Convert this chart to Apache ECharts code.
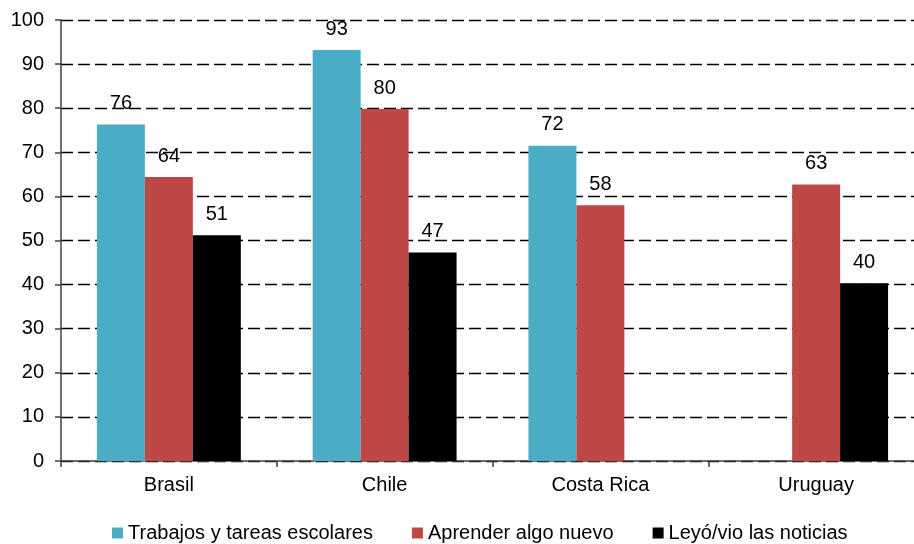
<!DOCTYPE html>
<html>
<head>
<meta charset="utf-8">
<script src="https://cdn.jsdelivr.net/npm/echarts@6/dist/echarts.min.js"></script>
<style>
html,body{margin:0;padding:0;background:#fff;}
#chart{width:914px;height:544px;}
</style>
</head>
<body>
<div id="chart"></div>
<script>
const categories = ['Brasil', 'Chile', 'Costa Rica', 'Uruguay'];
const seriesNames = ['Trabajos y tareas escolares', 'Aprender algo nuevo', 'Leyó/vio las noticias'];
const trabajos = [76.3, 93.2, 71.5, null];
const aprender = [64.4, 79.8, 58.0, 62.7];
const noticias = [51.2, 47.3, null, 40.3];
const yTicks = [0, 10, 20, 30, 40, 50, 60, 70, 80, 90, 100];

const colors = ['#4BACC6', '#BE4845', '#000000'];
const FONT = '"Liberation Sans", Arial, sans-serif';
const FS = 20;

const chart = echarts.init(document.getElementById('chart'), null, {renderer: 'canvas'});
function mk(name, data, color) {
  return {
    name: name,
    type: 'bar',
    data: data,
    barGap: '0%',
    barCategoryGap: '33.3%',
    itemStyle: {color: color},
    label: {
      show: true,
      position: 'top',
      distance: 11,
      color: '#000',
      fontFamily: FONT,
      fontSize: FS,
      formatter: p => p.value == null ? '' : Math.round(p.value)
    }
  };
}
chart.setOption({
  animation: false,
  textStyle: {fontFamily: FONT},
  grid: {left: 61, width: 863, top: 20, bottom: 83, containLabel: false, outerBoundsMode: 'none'},
  legend: {
    data: seriesNames,
    bottom: -4,
    left: 107,
    itemWidth: 11,
    itemHeight: 11,
    itemGap: 39,
    icon: 'rect',
    textStyle: {fontFamily: FONT, fontSize: FS, color: '#000'}
  },
  xAxis: {
    type: 'category',
    data: categories,
    axisLine: {lineStyle: {color: '#404040', width: 1.5}},
    axisTick: {show: true, length: 6, lineStyle: {color: '#404040', width: 1.5}},
    axisLabel: {color: '#000', fontFamily: FONT, fontSize: FS, margin: 14}
  },
  yAxis: {
    type: 'value',
    min: yTicks[0],
    max: yTicks[yTicks.length - 1],
    interval: 10,
    axisLine: {show: true, lineStyle: {color: '#404040', width: 1.5}},
    axisTick: {show: true, length: 6, lineStyle: {color: '#404040', width: 1.5}},
    axisLabel: {color: '#000', fontFamily: FONT, fontSize: FS, margin: 17},
    splitLine: {show: true, lineStyle: {color: '#000', width: 1.3, type: [12, 5]}}
  },
  series: [
    mk(seriesNames[0], trabajos, colors[0]),
    mk(seriesNames[1], aprender, colors[1]),
    mk(seriesNames[2], noticias, colors[2])
  ]
});
</script>
</body>
</html>
